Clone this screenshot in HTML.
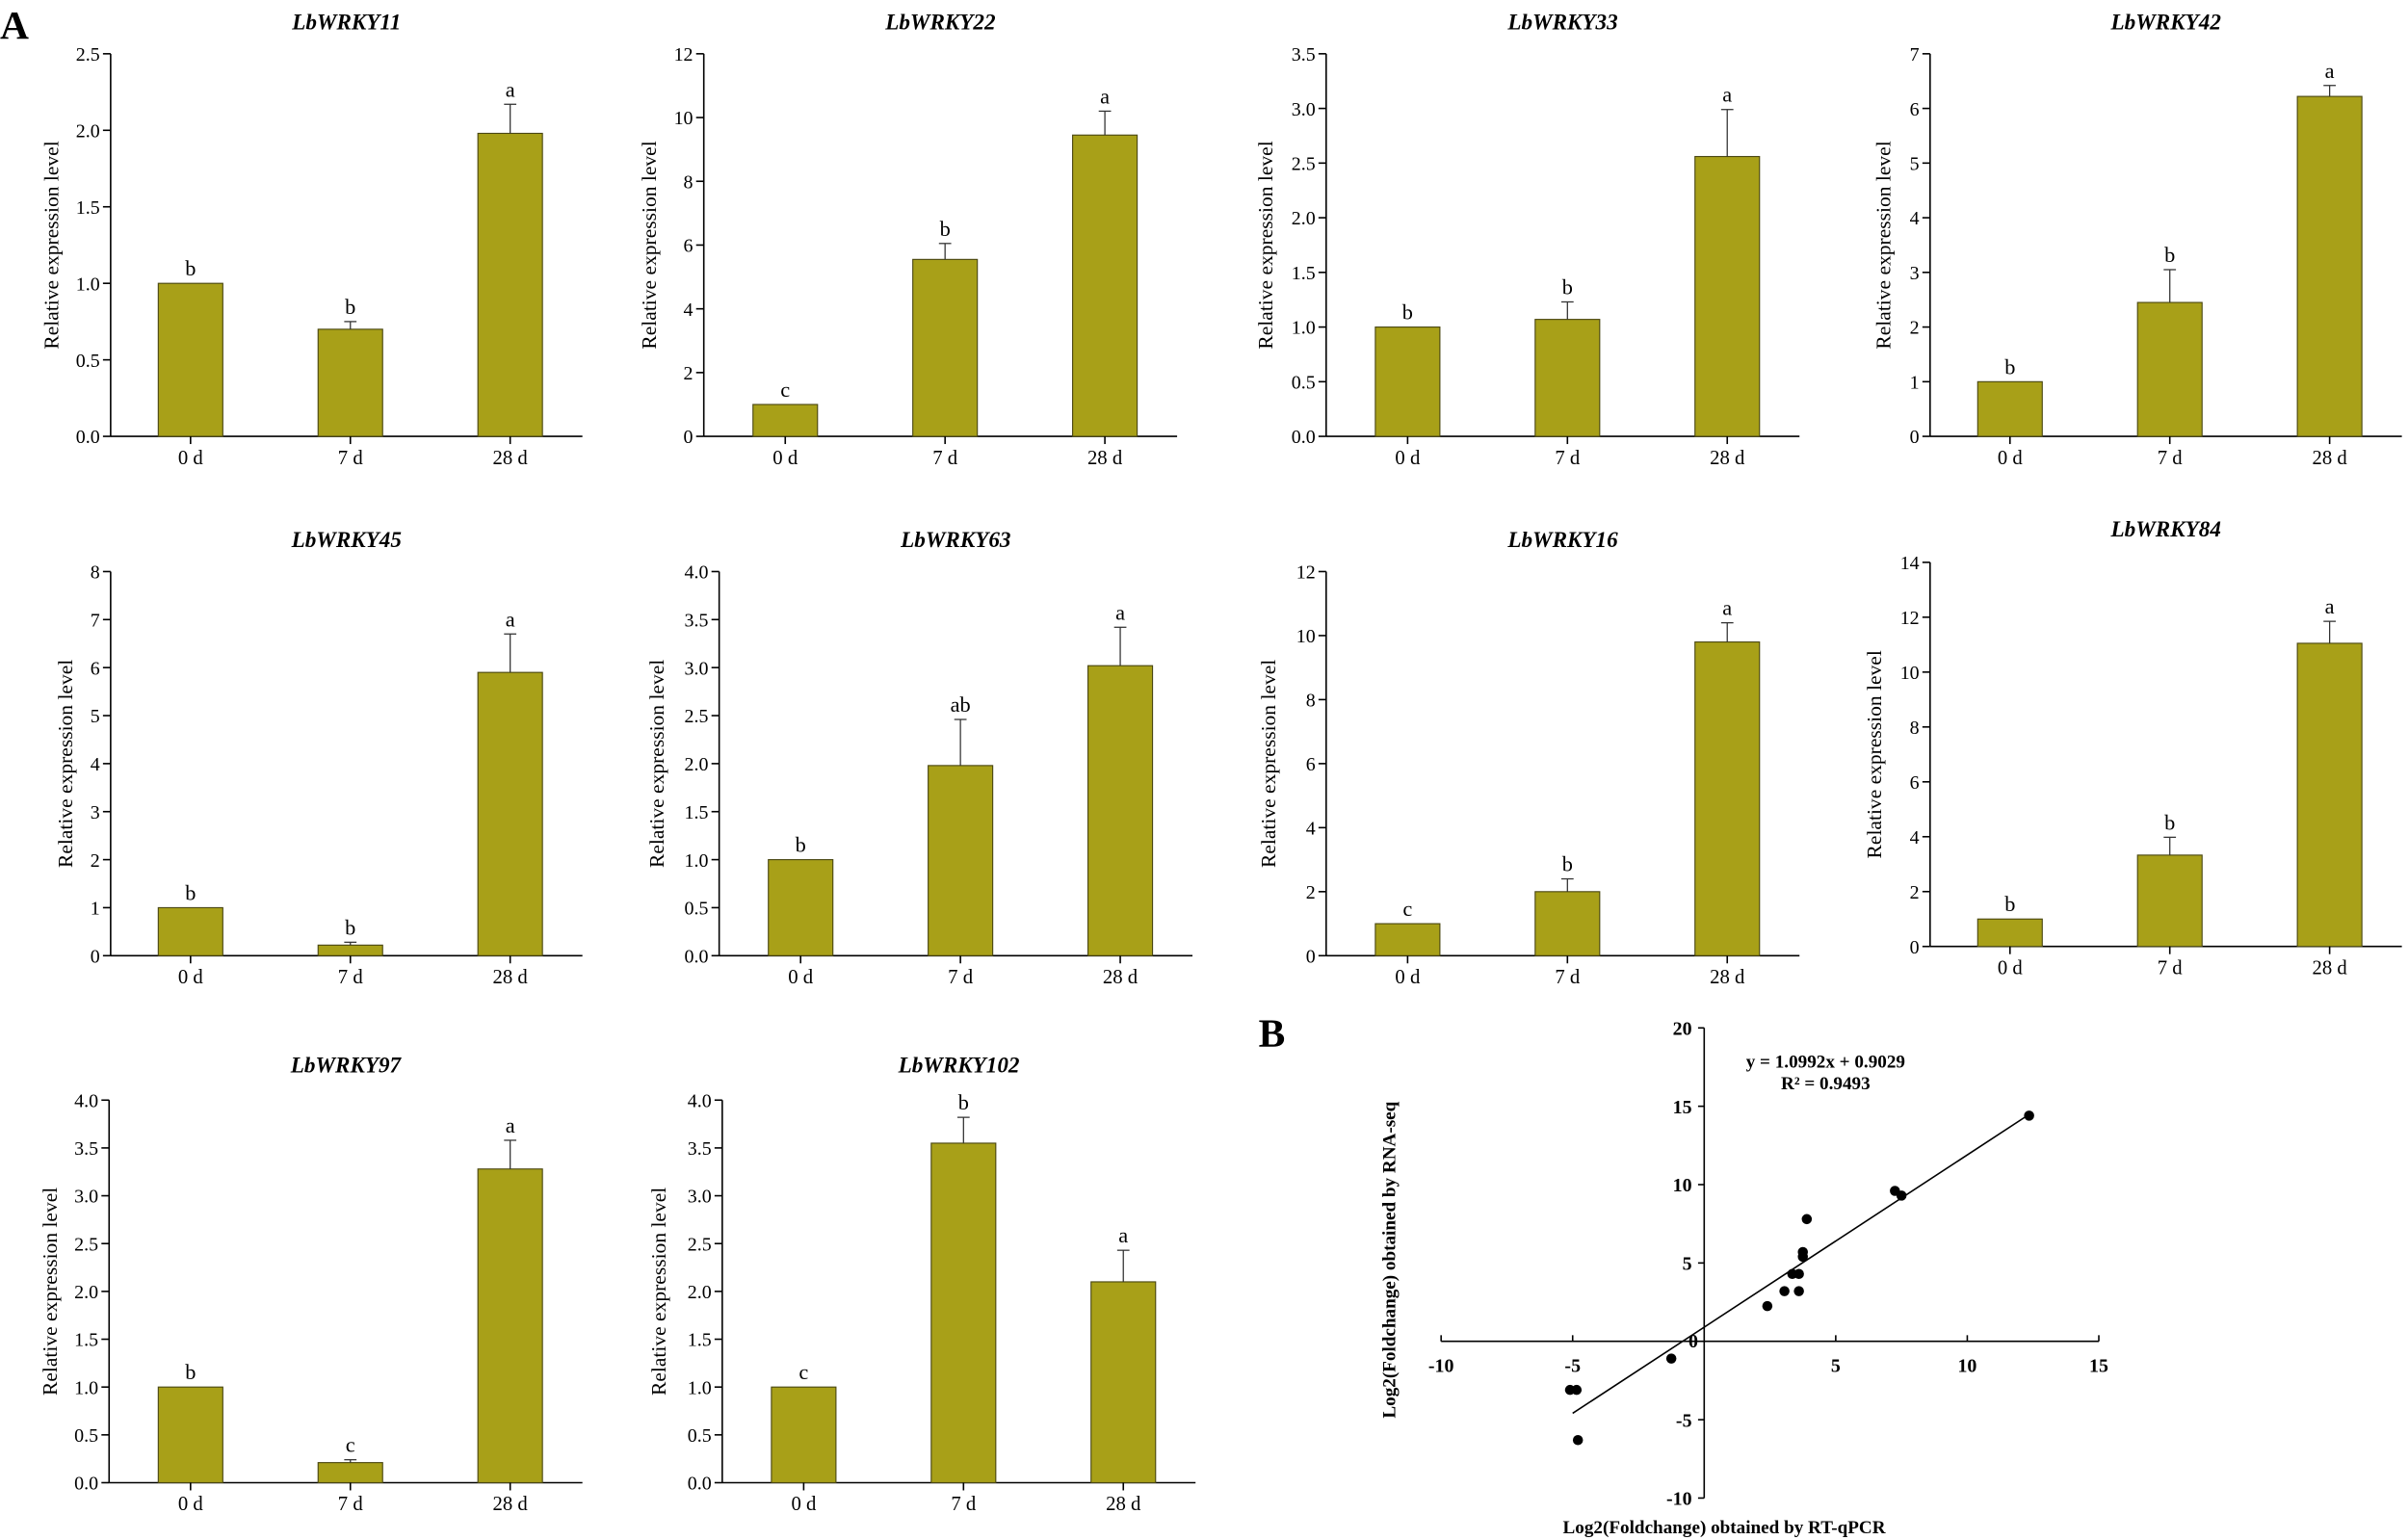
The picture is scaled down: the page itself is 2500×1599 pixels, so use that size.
<!DOCTYPE html>
<html><head><meta charset="utf-8"><style>html,body{margin:0;padding:0;background:#fff}svg{display:block}</style></head>
<body>
<svg id="fig" xmlns="http://www.w3.org/2000/svg" width="2500" height="1599" viewBox="0 0 1567 1002.3" preserveAspectRatio="none" font-family="'Liberation Serif', serif">
<text x="0" y="25" font-size="26" font-weight="bold">A</text>
<text x="819" y="681" font-size="26" font-weight="bold">B</text>
<g id="bars"></g>
<g id="scatter"></g>
</svg>
<script>
const categories = ["0 d", "7 d", "28 d"];
const geneNames = ["LbWRKY11","LbWRKY22","LbWRKY33","LbWRKY42","LbWRKY45","LbWRKY63","LbWRKY16","LbWRKY84","LbWRKY97","LbWRKY102"];
const meanValues = [[1.0,0.70,1.98],[1.0,5.55,9.45],[1.0,1.07,2.56],[1.0,2.45,6.22],[1.0,0.22,5.9],[1.0,1.98,3.02],[1.0,2.0,9.8],[1.0,3.33,11.05],[1.0,0.21,3.28],[1.0,3.55,2.1]];
const errorValues = [[0,0.05,0.19],[0,0.5,0.75],[0,0.16,0.43],[0,0.6,0.2],[0,0.06,0.8],[0,0.48,0.4],[0,0.4,0.6],[0,0.65,0.8],[0,0.03,0.3],[0,0.27,0.33]];
const sigLetters = [["b","b","a"],["c","b","a"],["b","b","a"],["b","b","a"],["b","b","a"],["b","ab","a"],["c","b","a"],["b","b","a"],["b","c","a"],["c","b","a"]];
const axisMax = [2.5,12,3.5,7,8,4,12,14,4,4];
const tickStep = [0.5,2,0.5,1,1,0.5,2,2,0.5,0.5];
const tickDecimals = [1,0,1,0,0,1,0,0,1,1];
const scatterX = [-5.1,-4.85,-4.8,-1.25,2.4,3.05,3.35,3.6,3.6,3.75,3.75,3.9,7.25,7.5,12.35];
const scatterY = [-3.1,-3.1,-6.3,-1.1,2.25,3.2,4.3,4.3,3.2,5.4,5.7,7.8,9.6,9.3,14.4];
const scatterXTicks = [-10,-5,5,10,15];
const scatterYTicks = [-10,-5,5,10,15,20];
const fitSlope = 1.0992, fitIntercept = 0.9029;

// layout (thumbnail units)
const layout = [
 {ax:72,b0:103,base:284,top:35,ylx:34,ty:13},
 {ax:458,b0:490,base:284,top:35,ylx:423,ty:13},
 {ax:863,b0:895,base:284,top:35,ylx:824,ty:13},
 {ax:1256,b0:1287,base:284,top:35,ylx:1226,ty:13},
 {ax:72,b0:103,base:622,top:372,ylx:43,ty:350},
 {ax:468,b0:500,base:622,top:372,ylx:428,ty:350},
 {ax:863,b0:895,base:622,top:372,ylx:826,ty:350},
 {ax:1256,b0:1287,base:616,top:366,ylx:1220,ty:343},
 {ax:71,b0:103,base:965,top:716,ylx:33,ty:692},
 {ax:470,b0:502,base:965,top:716,ylx:429,ty:692}
];
const NS="http://www.w3.org/2000/svg";
function mk(tag, attrs, parent, text){const e=document.createElementNS(NS,tag);for(const k in attrs)e.setAttribute(k,attrs[k]);if(text!==undefined)e.textContent=text;parent.appendChild(e);return e;}
const gb=document.getElementById('bars');
const BW=42, GAP=104;
geneNames.forEach((g,i)=>{
  const L=layout[i];
  const grp=mk('g',{},gb);
  
  
  const y=v=>L.base-(v/axisMax[i])*(L.base-L.top);
  const xEnd=Math.min(L.b0+2*GAP+BW+26,1567);
  const cx=(L.ax+xEnd)/2;
  const t=mk('text',{x:cx,y:L.ty+6,'text-anchor':'middle','font-size':14.5,'font-weight':'bold','font-style':'italic'},grp,g);
  
  
  const yl=mk('text',{x:0,y:0,'text-anchor':'middle','font-size':13.5,transform:`translate(${L.ylx+4},${(L.base+L.top)/2}) rotate(-90)`},grp,'Relative expression level');
  
  
  mk('line',{x1:L.ax,y1:L.top,x2:L.ax,y2:L.base,stroke:'#000','stroke-width':1},grp);
  mk('line',{x1:L.ax,y1:L.base,x2:xEnd,y2:L.base,stroke:'#000','stroke-width':1},grp);
  const n=Math.round(axisMax[i]/tickStep[i]);
  for(let k=0;k<=n;k++){
    const v=k*tickStep[i], yy=y(v);
    mk('line',{x1:L.ax-5,y1:yy,x2:L.ax,y2:yy,stroke:'#000','stroke-width':1},grp);
    const tl=mk('text',{x:L.ax-7,y:yy+4.5,'text-anchor':'end','font-size':12.5},grp,v.toFixed(tickDecimals[i]));
    
    
  }
  categories.forEach((c,j)=>{
    const bx=L.b0+j*GAP, bc=bx+BW/2, v=meanValues[i][j], e=errorValues[i][j];
    const r=mk('rect',{x:bx,y:y(v),width:BW,height:L.base-y(v),fill:'#a8a018',stroke:'#4a4712','stroke-width':0.7},grp);
    
    
    if(e>0){
      mk('line',{x1:bc,y1:y(v),x2:bc,y2:y(v+e),stroke:'#333','stroke-width':0.8},grp);
      mk('line',{x1:bc-4,y1:y(v+e),x2:bc+4,y2:y(v+e),stroke:'#333','stroke-width':0.8},grp);
    }
    const lt=mk('text',{x:bc,y:y(v+e)-5,'text-anchor':'middle','font-size':14},grp,sigLetters[i][j]);
    
    
    mk('line',{x1:bc,y1:L.base,x2:bc,y2:L.base+5,stroke:'#000','stroke-width':1},grp);
    const xl=mk('text',{x:bc,y:L.base+18,'text-anchor':'middle','font-size':13},grp,c);
    
    
  });
});

// scatter
const gs=document.getElementById('scatter');


const X0=1109, XU=17.12, Y0=873, YU=10.2;
const sx=v=>X0+v*XU, sy=v=>Y0-v*YU;
mk('line',{x1:sx(-10),y1:Y0,x2:sx(15),y2:Y0,stroke:'#000','stroke-width':1},gs);
mk('line',{x1:X0,y1:sy(20),x2:X0,y2:sy(-10),stroke:'#000','stroke-width':1},gs);
scatterXTicks.forEach(v=>{
  mk('line',{x1:sx(v),y1:Y0,x2:sx(v),y2:Y0-4,stroke:'#000','stroke-width':1},gs);
  const t=mk('text',{x:sx(v),y:Y0+20,'text-anchor':'middle','font-size':12.5,'font-weight':'bold'},gs,String(v));
  
  
});
scatterYTicks.forEach(v=>{
  mk('line',{x1:X0,y1:sy(v),x2:X0-4,y2:sy(v),stroke:'#000','stroke-width':1},gs);
  const t=mk('text',{x:X0-8,y:sy(v)+4.5,'text-anchor':'end','font-size':12.5,'font-weight':'bold'},gs,String(v));
  
  
});
const z=mk('text',{x:X0-4,y:Y0+4,'text-anchor':'end','font-size':12.5,'font-weight':'bold'},gs,'0');


const fl=mk('line',{x1:sx(-5),y1:sy(fitSlope*-5+fitIntercept),x2:sx(12.35),y2:sy(fitSlope*12.35+fitIntercept),stroke:'#000','stroke-width':1},gs);


scatterX.forEach((xv,k)=>{
  const c=mk('circle',{cx:sx(xv),cy:sy(scatterY[k]),r:3.3,fill:'#000'},gs);
  
  
});
const e1=mk('text',{x:1188,y:695,'text-anchor':'middle','font-size':12,'font-weight':'bold'},gs,'y = 1.0992x + 0.9029');


const e2=mk('text',{x:1188,y:709,'text-anchor':'middle','font-size':12,'font-weight':'bold'},gs,'R² = 0.9493');


const yt=mk('text',{x:0,y:0,'text-anchor':'middle','font-size':12,'font-weight':'bold',transform:'translate(908,820) rotate(-90)'},gs,'Log2(Foldchange) obtained by RNA-seq');


const xt=mk('text',{x:1122,y:998,'text-anchor':'middle','font-size':12,'font-weight':'bold'},gs,'Log2(Foldchange) obtained by RT-qPCR');


</script>
</body></html>
